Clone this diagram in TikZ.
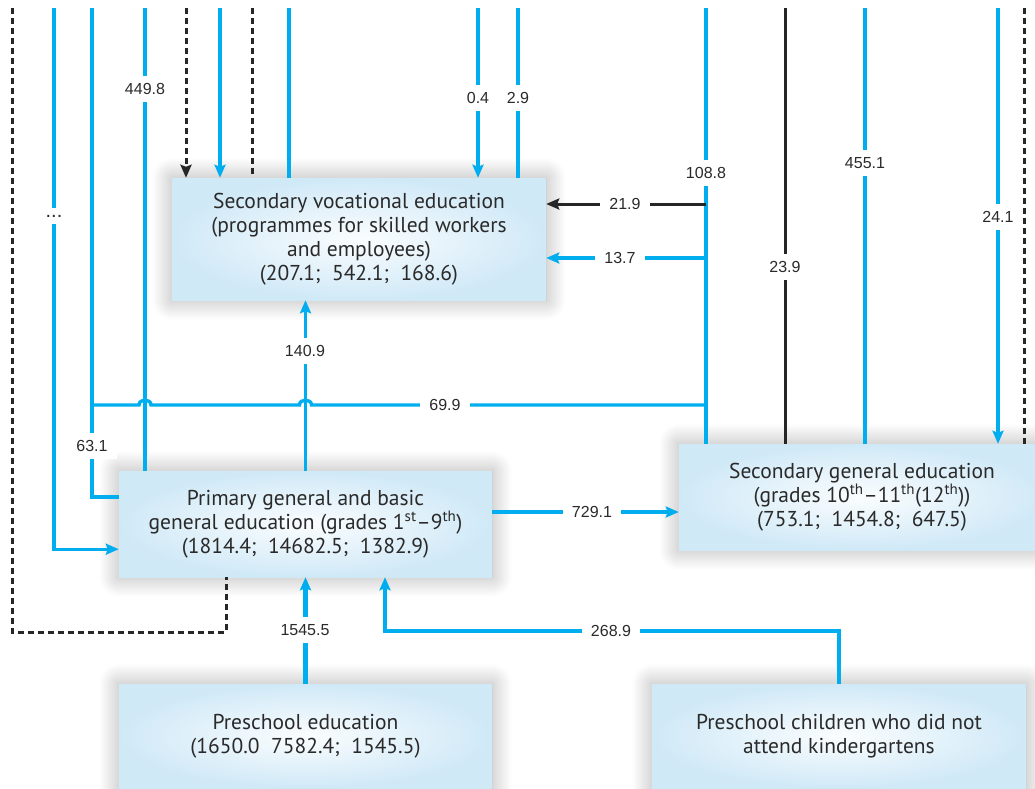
\documentclass[tikz,border=0pt]{standalone}
\usepackage{fontspec}
\setmainfont{PT Sans}
\newfontfamily\lblfont{Liberation Sans}
\usetikzlibrary{arrows.meta,shadows.blur,calc}
\definecolor{cy}{HTML}{00AEEF}
\definecolor{boxb}{HTML}{D0E9F7}
\definecolor{txt}{HTML}{2A2A2A}
\begin{document}
\begin{tikzpicture}[x=1pt,y=-1pt,
  box/.style={rectangle, inner sep=0pt, align=center, text=txt,
    font=\fontsize{21.5}{24}\selectfont,
    shading=radial, inner color=boxb!10, outer color=boxb,
    blur shadow={shadow xshift=0pt, shadow yshift=0pt, shadow blur radius=20pt, shadow blur steps=24, shadow opacity=32}},
  lbl/.style={fill=white, inner xsep=9pt, inner ysep=7pt, text=txt,
    font=\lblfont\fontsize{16}{18}\selectfont},
  cl/.style={draw=cy, line width=3.4pt},
  bl/.style={draw=black!85, line width=3pt},
  dl/.style={draw=black!85, line width=3pt, dash pattern=on 6pt off 4pt},
  arr/.style={-{Stealth[length=13pt,width=11pt,inset=2pt]}}
]
\useasboundingbox (0,0) rectangle (1035,788);
\clip (0,0) rectangle (1035,788);

% boxes
\node[box, minimum width=374pt, minimum height=122pt] (sve) at (359,239)
  {Secondary vocational education\\(programmes for skilled workers\\and employees)\\(207.1;~~542.1;~~168.6)};
\node[box, minimum width=373pt, minimum height=106pt] (prim) at (305.5,524)
  {Primary general and basic\\general education (grades 1\textsuperscript{st}–9\textsuperscript{th})\\(1814.4;~~14682.5;~~1382.9)};
\node[box, minimum width=366pt, minimum height=106pt] (sge) at (862,497)
  {Secondary general education\\(grades 10\textsuperscript{th}–11\textsuperscript{th}(12\textsuperscript{th}))\\(753.1;~~1454.8;~~647.5)};
\node[box, minimum width=373pt, minimum height=104pt] (pre) at (305.5,736)
  {Preschool education\\(1650.0~~7582.4;~~1545.5)};
\node[box, minimum width=374pt, minimum height=104pt] (kids) at (839,736)
  {Preschool children who did not\\attend kindergartens};

% top ends
\foreach \x in {12,54,92,145,186,220,252,289,478,518,706,785,865,998,1024}
  \coordinate (a\x) at (\x,8);
\coordinate (h92) at (92,405);
\coordinate (h706) at (706,405);
\coordinate (k1) at (385,631);
\coordinate (d1) at (226,632);
\coordinate (e1) at ([yshift=35pt]sve.east);
\coordinate (e2) at ([yshift=-19pt]sve.east);
\coordinate (e3) at ([yshift=12pt]prim.east);

% left side
\draw[dl] (a12) |- (d1) -- (d1 |- prim.south);
\draw[cl,arr] (a54) |- ([yshift=28pt]prim.south west) node[lbl, at={(54,216)}, font=\lblfont\fontsize{20}{18}\selectfont] {...};
\draw[cl] (a92) |- ([yshift=-26pt]prim.north west) node[lbl, at={(92,446)}] {63.1};
\draw[cl] (a145) -- (a145 |- prim.north) node[lbl, at={(145,89)}] {449.8};
\draw[dl,arr] (a186) -- (a186 |- sve.north);
\draw[cl,arr] (a220) -- (a220 |- sve.north);
\draw[dl] (a252) -- (a252 |- sve.north);
\draw[cl] (a289) -- (a289 |- sve.north);
\draw[cl,arr] (a478) -- (a478 |- sve.north) node[lbl, at={(478,98)}] {0.4};
\draw[cl] (a518) -- (a518 |- sve.north) node[lbl, at={(518,98)}] {2.9};

% primary -> vocational
\draw[cl,arr] (prim.north) -- (prim.north |- sve.south) node[lbl, at={(305,351)}] {140.9};

% horizontal 69.9 with hops
\draw[cl] (h92) -- (139,405) .. controls (139,398.5) and (151,398.5) .. (151,405)
  -- (299.5,405) .. controls (299.5,398.5) and (311.5,398.5) .. (311.5,405) -- (h706)
  node[lbl, at={(445,405)}] {69.9};

% right side
\draw[cl] (a706) -- (a706 |- sge.north) node[lbl, at={(706,173)}] {108.8};
\draw[bl,arr] (a706 |- e1) -- (e1) node[lbl, at={(625,204)}] {21.9};
\draw[cl,arr] (a706 |- e2) -- (e2) node[lbl, at={(620,258)}] {13.7};
\draw[bl] (a785) -- (a785 |- sge.north) node[lbl, at={(785,267)}] {23.9};
\draw[cl] (a865) -- (a865 |- sge.north) node[lbl, at={(865,163)}] {455.1};
\draw[cl,arr] (a998) -- (a998 |- sge.north) node[lbl, at={(998,217)}] {24.1};
\draw[dl] (a1024) -- (a1024 |- sge.north);

% primary -> secondary general
\draw[cl,arr] (e3) -- (e3 -| sge.west) node[lbl, at={(592,512)}] {729.1};

% bottom
\draw[cl,line width=4.2pt,arr] (pre.north) -- (pre.north |- prim.south) node[lbl, at={(305,630)}] {1545.5};
\draw[cl,arr] (kids.north) |- (k1) -- (k1 |- prim.south) node[lbl, at={(611,631)}] {268.9};
\end{tikzpicture}
\end{document}
